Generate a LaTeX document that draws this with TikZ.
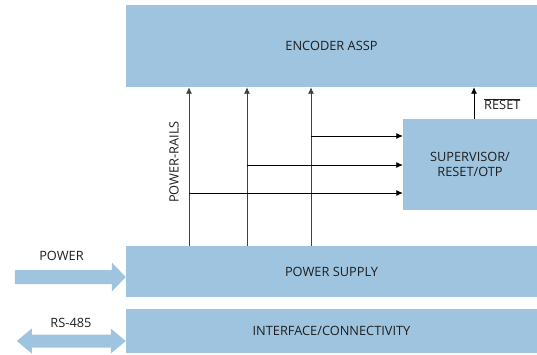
\documentclass[tikz,border=0pt]{standalone}
\usepackage{fontspec}
\setmainfont{Open Sans}
\usetikzlibrary{arrows.meta}
\definecolor{blockblue}{RGB}{159,196,223}
\definecolor{txt}{RGB}{30,30,30}
\begin{document}
\begin{tikzpicture}[x=1pt,y=-1pt,
  block/.style={fill=blockblue, draw=none, inner sep=0pt, text=txt,
    font=\fontsize{12.8}{15}\selectfont, align=center},
  lbl/.style={text=txt, font=\fontsize{12.8}{15}\selectfont, inner sep=0pt},
  rail/.style={draw=black!75, line width=0.9pt, -{Latex[length=6.5pt,width=6pt]}},
  feed/.style={draw=black, line width=0.8pt, -{Latex[length=6.5pt,width=6pt]}},
  bigarrow/.style={fill=blockblue, draw=none}]
\useasboundingbox (0,0) rectangle (537,354);

% main blocks
\node[block, minimum width=411, minimum height=82] (enc) at (331.5,46) {ENCODER ASSP};
\node[block, minimum width=134, minimum height=91] (sup) at (470,164.5) {SUPERVISOR/\\RESET/OTP};
\node[block, minimum width=411, minimum height=51] (psu) at (331.5,271.5) {POWER SUPPLY};
\node[block, minimum width=411, minimum height=44] (ifc) at (331.5,331) {INTERFACE/CONNECTIVITY};

% rail positions and tap heights
\coordinate (r1) at (189,0);
\coordinate (r2) at (247,0);
\coordinate (r3) at (311,0);
\coordinate (t1) at (0,193);
\coordinate (t2) at (0,165);
\coordinate (t3) at (0,136);

% power rails up to the encoder
\draw[rail] (psu.north -| r1) -- (enc.south -| r1);
\draw[rail] (psu.north -| r2) -- (enc.south -| r2);
\draw[rail] (psu.north -| r3) -- (enc.south -| r3);

% taps into the supervisor
\draw[feed] (r1 |- t1) -- (sup.west |- t1);
\draw[feed] (r2 |- t2) -- (sup.west |- t2);
\draw[feed] (r3 |- t3) -- (sup.west |- t3);

% reset line
\coordinate (rs) at (474,0);
\draw[feed] (sup.north -| rs) -- (enc.south -| rs);
\node[lbl, anchor=west] (rst) at (484,104) {$\overline{\mbox{RESET}}$};

\node[lbl, rotate=90] (rails) at (174,162) {POWER-RAILS};

% power input arrow
\coordinate (pc) at (0,277);
\fill[bigarrow] (psu.west |- pc) -- ++(-14,-14.5) -- ++(0,7.5) -- ++(-97,0)
  -- ++(0,14) -- ++(97,0) -- ++(0,7.5) -- cycle;
\node[lbl] (pwr) at (61.5,256) {POWER};

% bidirectional bus arrow
\coordinate (bc) at (0,341);
\fill[bigarrow] (ifc.west |- bc) -- ++(-15,-12.5) -- ++(0,6) -- ++(-79,0)
  -- ++(0,-6) -- ++(-15,12.5) -- ++(15,12.5) -- ++(0,-6) -- ++(79,0)
  -- ++(0,6) -- cycle;
\node[lbl] (bus) at (71,322.5) {RS-485};
\end{tikzpicture}
\end{document}
